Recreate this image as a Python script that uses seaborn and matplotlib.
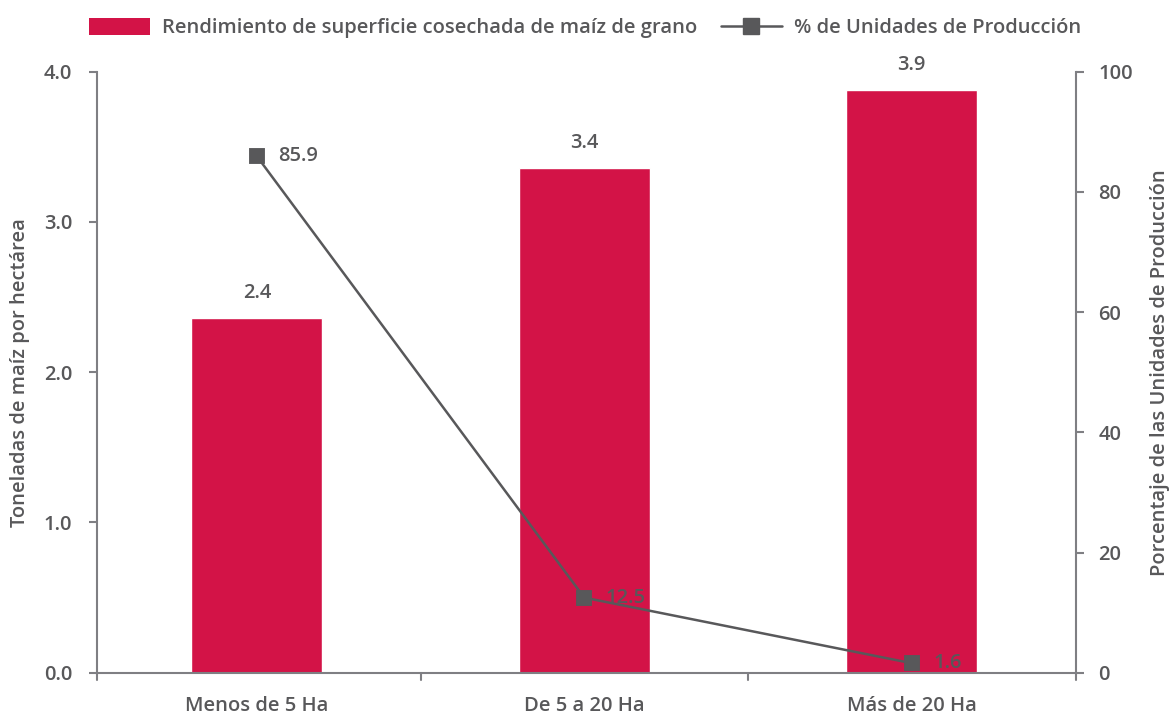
import pandas as pd
import seaborn as sns
import matplotlib.pyplot as plt
from matplotlib.patches import Patch
from matplotlib.lines import Line2D

categories = ['Menos de 5 Ha', 'De 5 a 20 Ha', 'Más de 20 Ha']
rendimiento = [2.36, 3.36, 3.88]
rend_labels = ['2.4', '3.4', '3.9']
unidades = [85.9, 12.5, 1.6]

red = '#D31347'
gray = '#58585A'
spine_gray = '#7F7F83'
fs = 14.5

sns.set_style('white')
plt.rcParams['font.family'] = ['Open Sans', 'DejaVu Sans']
plt.rcParams['font.weight'] = 'semibold'
plt.rcParams['axes.labelweight'] = 'semibold'
plt.rcParams['text.color'] = gray
plt.rcParams['axes.labelcolor'] = gray
plt.rcParams['xtick.color'] = gray
plt.rcParams['ytick.color'] = gray

df = pd.DataFrame({'Tamaño': categories, 'Rendimiento': rendimiento, 'Unidades': unidades})

fig, ax = plt.subplots(figsize=(11.7, 7.15), dpi=100)
fig.subplots_adjust(left=0.083, right=0.92, top=0.9, bottom=0.059)

sns.barplot(data=df, x='Tamaño', y='Rendimiento', color=red, width=0.4,
            saturation=1, ax=ax)
xlo, xhi = -0.488, 2.503
ax.set_xlim(xlo, xhi)
ax.set_ylim(0, 4)
ax.set_yticks([0, 1, 2, 3, 4])
ax.set_yticklabels([f'{v:.1f}' for v in [0, 1, 2, 3, 4]])
ax.set_xlabel('')
ax.set_ylabel('Toneladas de maíz por hectárea', fontsize=fs, labelpad=10)

for i, (v, lab) in enumerate(zip(rendimiento, rend_labels)):
    ax.text(i, v + 0.1, lab, ha='center', va='bottom', fontsize=fs, color=gray)

ax2 = ax.twinx()
sns.pointplot(data=df, x='Tamaño', y='Unidades', color=gray, markers='s',
              markersize=10, linewidth=1.8, ax=ax2)
ax2.set_ylim(0, 100)
ax2.set_yticks([0, 20, 40, 60, 80, 100])
ax2.set_ylabel('Porcentaje de las Unidades de Producción', fontsize=fs, labelpad=12)
ax2.set_xlim(xlo, xhi)

for i, v in enumerate(unidades):
    ax2.text(i + 0.065, v, f'{v:.1f}', ha='left', va='center', fontsize=fs, color=gray)

# category boundary ticks on x
ax.set_xticks([0, 1, 2])
ax.set_xticklabels(categories, fontsize=fs)
ax.tick_params(axis='x', length=0, pad=17)
for xb in [xlo, 0.5, 1.5, xhi]:
    ax.plot([xb, xb], [0, -0.05], color=spine_gray, lw=1.5, clip_on=False)

for a in (ax, ax2):
    for s in a.spines.values():
        s.set_visible(False)
ax.spines['left'].set_visible(True)
ax.spines['bottom'].set_visible(True)
ax2.spines['right'].set_visible(True)
for s in [ax.spines['left'], ax.spines['bottom'], ax2.spines['right']]:
    s.set_color(spine_gray)
    s.set_linewidth(1.5)

ax.tick_params(axis='y', length=6, width=1.5, color=spine_gray, labelsize=fs, pad=12)
ax2.tick_params(axis='y', length=6, width=1.5, color=spine_gray, labelsize=fs, pad=10)

handles = [Patch(facecolor=red, edgecolor='none'),
           Line2D([0], [0], color=gray, lw=1.8, marker='s', markersize=11)]
fig.legend(handles, ['Rendimiento de superficie cosechada de maíz de grano',
                     '% de Unidades de Producción'],
           loc='upper center', bbox_to_anchor=(0.5, 1.0), ncol=2, frameon=False,
           fontsize=fs, handlelength=3.0, handleheight=0.9, columnspacing=1.2,
           handletextpad=0.6)

plt.savefig('out.png', dpi=100)
